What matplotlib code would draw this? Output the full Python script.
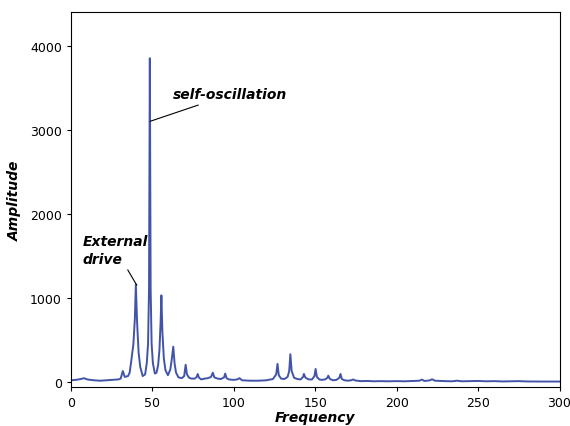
import numpy as np
import matplotlib
matplotlib.use('Agg')
import matplotlib.pyplot as plt

# spectrum trace (frequency, amplitude)
freq = [0, 3, 6, 8, 10, 14, 18, 22, 26, 29,
        30.5, 31.8, 33, 35,
        36, 37, 38.3, 39.2, 39.8, 40.6, 41.5, 42.5, 44, 45.5,
        46.5, 47.3, 47.9, 48.4, 48.9, 49.5, 50.3, 51.5, 52.5, 53.5,
        54.3, 55.0, 55.5, 56.1, 57, 58, 59.5, 61,
        61.8, 62.8, 63.6, 64.5, 66, 68, 69.5,
        70.4, 71.2, 72.5, 74, 76, 77.2,
        77.8, 78.6, 80, 82, 84, 86,
        87.1, 88, 90, 92, 94,
        94.7, 95.5, 97, 100, 102,
        103.5, 105, 110, 115, 120, 124, 126,
        126.8, 127.6, 129, 131, 133, 134,
        134.7, 135.5, 137, 139, 141, 142.5,
        143, 144, 146, 148, 149.5,
        150.2, 151, 152.5, 154, 156, 157.5,
        158, 159, 161, 163, 164.8,
        165.5, 166.3, 168, 170, 172, 173.3,
        174.5, 178, 182, 186, 190, 195, 200, 205, 210, 214,
        215.5, 217, 220, 221.8, 223.5, 227, 230, 234, 237, 240,
        245, 250, 255, 260, 265, 270, 275, 280, 285, 290, 295, 300]
amp = [20, 25, 35, 45, 30, 20, 15, 20, 25, 30,
       40, 130, 60, 70,
       110, 250, 450, 750, 1160, 700, 350, 180, 70, 90,
       220, 450, 1100, 3850, 1100, 450, 220, 100, 110, 200,
       380, 700, 1030, 600, 280, 140, 80, 150,
       260, 420, 220, 110, 55, 45, 70,
       205, 90, 50, 40, 40, 60,
       95, 50, 30, 40, 45, 60,
       110, 55, 40, 35, 55,
       100, 45, 30, 25, 30,
       45, 20, 15, 15, 20, 35, 90,
       215, 80, 40, 35, 60, 130,
       330, 130, 50, 35, 30, 60,
       95, 50, 30, 30, 70,
       155, 60, 30, 25, 30, 50,
       75, 35, 20, 25, 50,
       95, 35, 20, 15, 20, 30,
       18, 10, 12, 8, 10, 8, 10, 8, 12, 15,
       28, 12, 18, 32, 15, 12, 10, 8, 15, 8,
       10, 12, 8, 10, 6, 8, 10, 6, 5, 5, 5, 5]

xticks = [0, 50, 100, 150, 200, 250, 300]
yticks = [0, 1000, 2000, 3000, 4000]

fig = plt.figure(figsize=(5.7, 4.27), dpi=100)
ax = fig.add_axes([0.1246, 0.0913, 0.857, 0.8783])
ax.plot(freq, amp, color='#4254a8', lw=1.4)

ax.set_xlim(0, 300)
ax.set_ylim(-60, 4400)
ax.set_xticks(xticks)
ax.set_yticks(yticks)
ax.tick_params(labelsize=9, length=3)
ax.set_xlabel('Frequency', fontsize=10, fontweight='bold', style='italic', labelpad=1)
ax.set_ylabel('Amplitude', fontsize=10, fontweight='bold', style='italic', labelpad=6)

ax.annotate('self-oscillation', xy=(48.6, 3100), xytext=(62.5, 3420),
            fontsize=10, fontweight='bold', style='italic', va='center',
            arrowprops=dict(arrowstyle='-', color='black', lw=0.8, shrinkA=2, shrinkB=0))
ax.annotate('External\ndrive', xy=(40.4, 1150), xytext=(7.3, 1570),
            fontsize=10, fontweight='bold', style='italic', va='center', linespacing=1.35,
            arrowprops=dict(arrowstyle='-', color='black', lw=0.8, shrinkA=1, shrinkB=0,
                            relpos=(0.65, 0)))

fig.savefig('out.png', dpi=100)
